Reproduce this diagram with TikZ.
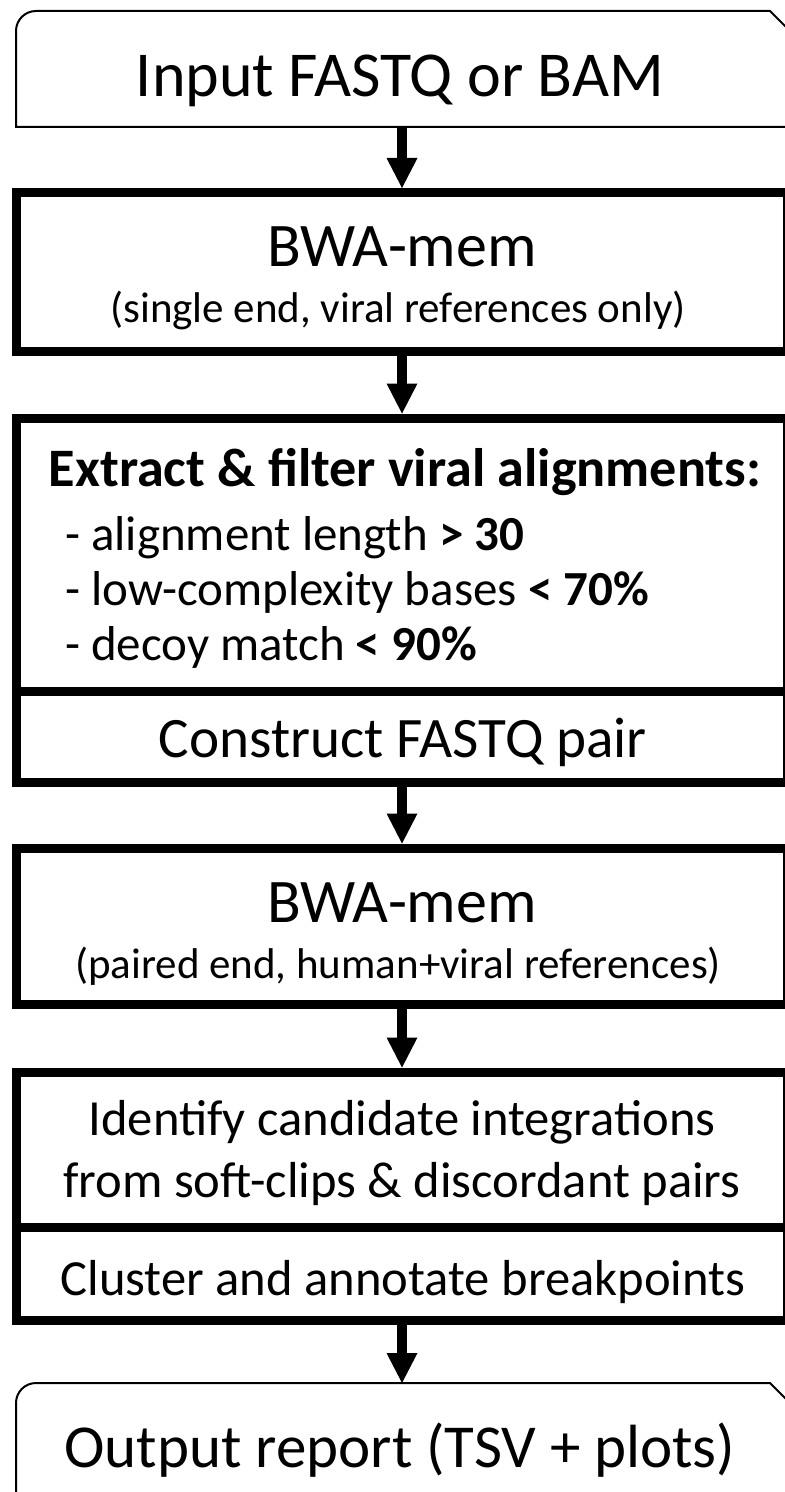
\documentclass[tikz,border=0pt]{standalone}
\usepackage{fontspec}
\setmainfont{Carlito}
\usetikzlibrary{arrows.meta}
\tikzset{>=latex}
\tikzset{
  stepbox/.style={draw,line width=4.5pt,minimum width=385.5pt,inner sep=0pt},
  endbox/.style={inner sep=0pt,outer sep=0pt,minimum width=386pt},
  flow/.style={line width=5pt,-{Triangle[width=15.5pt,length=15pt,line width=0pt]}},
  big/.style={anchor=base,font=\fontsize{31}{37}\selectfont},
  mid/.style={anchor=base,font=\fontsize{25.3}{30}\selectfont},
  small/.style={anchor=base,font=\fontsize{21.5}{26}\selectfont},
  item/.style={anchor=base west,font=\fontsize{24.5}{29}\selectfont}
}

\begin{document}
\begin{tikzpicture}[x=0.5pt,y=-0.5pt]
    \useasboundingbox (0,0) rectangle (784,1492);
    \node[endbox,minimum height=58pt] (input) at (402,69) {};
    \draw[line width=1pt] (input.south west) [rounded corners=10pt] -- (input.north west) [sharp corners] -- ([xshift=-9pt]input.north east) -- ([yshift=-9pt]input.north east) -- (input.south east) -- cycle;
    \node[stepbox,minimum height=79.5pt] (bwaone) at (402,272) {};
    \node[stepbox,minimum height=136.5pt] (extract) at (402,554.5) {};
    \node[stepbox,minimum height=45.75pt] (pair) at (402,736.75) {};
    \node[stepbox,minimum height=78.25pt] (bwatwo) at (402,926.25) {};
    \node[stepbox,minimum height=77.5pt] (identify) at (402,1149.5) {};
    \node[stepbox,minimum height=46.5pt] (cluster) at (402,1273.5) {};
    \node[endbox,minimum height=90pt] (output) at (402,1473) {};
    \draw[line width=1pt] (output.south west) [rounded corners=10pt] -- (output.north west) [sharp corners] -- ([xshift=-9pt]output.north east) -- ([yshift=-9pt]output.north east) -- (output.south east) -- cycle;
    \foreach \a/\b in {input/bwaone,bwaone/extract,pair/bwatwo,bwatwo/identify,cluster/output}
        \draw[flow] (\a.south) -- (\b.north);
    \node[big,font=\fontsize{32}{38}\selectfont] (tinput) at (400,97) {Input FASTQ or BAM};
    \node[big] (tbwaone) at (402,267) {BWA-mem};
    \node[small] (tsingle) at (398,322) {(single end, viral references only)};
    \node[anchor=base,font=\fontsize{27.1}{32}\selectfont\bfseries] (thead) at (405,486) {Extract \& filter viral alignments:};
    \node[item] (tlength) at (58,550) {- alignment length \textbf{> 30}};
    \node[item] (tlow) at (58,605) {- low-complexity bases \textbf{< 70\%}};
    \node[item] (tdecoy) at (58,660) {- decoy match \textbf{< 90\%}};
    \node[big,font=\fontsize{28.6}{34}\selectfont] (tpair) at (403,757) {Construct FASTQ pair};
    \node[big] (tbwatwo) at (402,922) {BWA-mem};
    \node[small] (tpaired) at (398,978) {(paired end, human+viral references)};
    \node[mid] (tident) at (402,1135) {Identify candidate integrations};
    \node[mid] (tsoft) at (402,1197) {from soft-clips \& discordant pairs};
    \node[mid] (tcluster) at (403,1295) {Cluster and annotate breakpoints};
    \node[big,font=\fontsize{30.5}{36}\selectfont] (toutput) at (400,1467) {Output report (TSV + plots)};
\end{tikzpicture}
\end{document}
